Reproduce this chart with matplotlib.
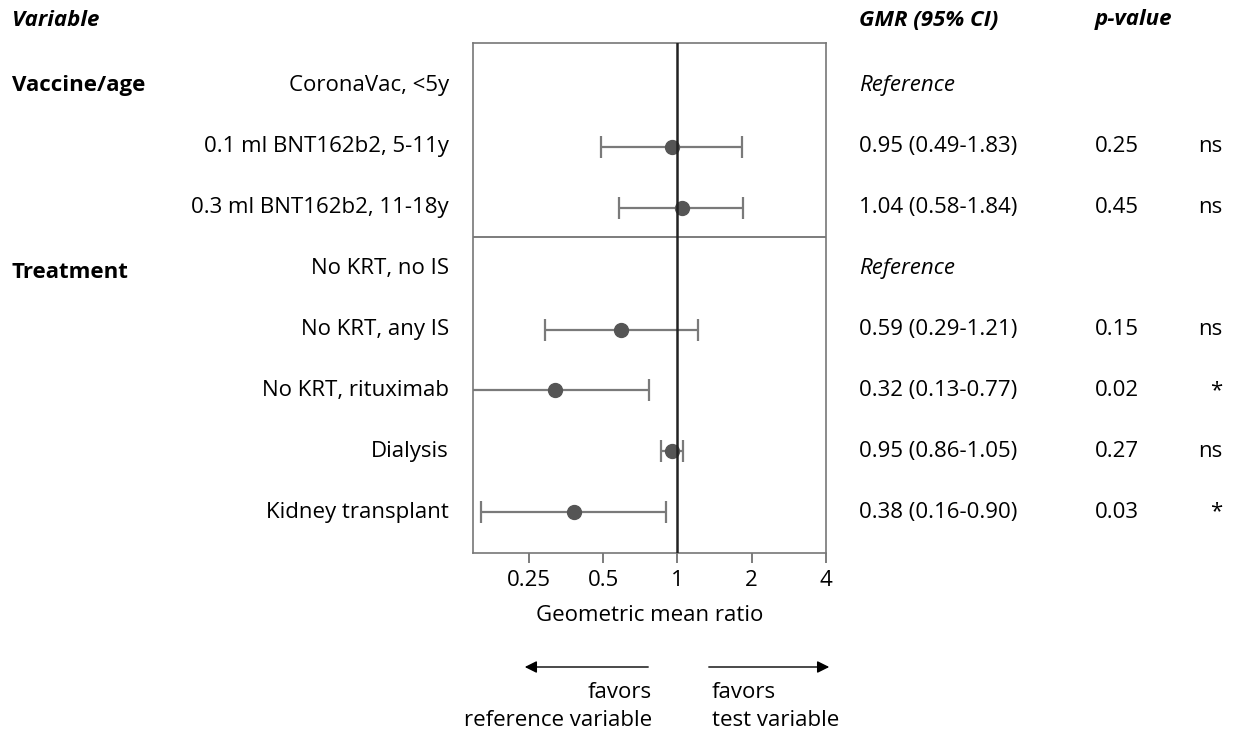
import numpy as np
import matplotlib.pyplot as plt
from matplotlib import transforms

plt.rcParams['font.family'] = ['Open Sans', 'DejaVu Sans']

# ---- data ----
groups = ["Vaccine/age", "Treatment"]
group_rows = [0, 3.07]
labels = ["CoronaVac, <5y", "0.1 ml BNT162b2, 5-11y", "0.3 ml BNT162b2, 11-18y",
          "No KRT, no IS", "No KRT, any IS", "No KRT, rituximab",
          "Dialysis", "Kidney transplant"]
gmr = [np.nan, 0.95, 1.04, np.nan, 0.59, 0.32, 0.95, 0.38]
lo = [np.nan, 0.49, 0.58, np.nan, 0.29, 0.13, 0.86, 0.16]
hi = [np.nan, 1.83, 1.84, np.nan, 1.21, 0.77, 1.05, 0.90]
ci_text = ["Reference", "0.95 (0.49-1.83)", "1.04 (0.58-1.84)", "Reference",
           "0.59 (0.29-1.21)", "0.32 (0.13-0.77)", "0.95 (0.86-1.05)", "0.38 (0.16-0.90)"]
pvals = ["", "0.25", "0.45", "", "0.15", "0.02", "0.27", "0.03"]
signif = ["", "ns", "ns", "", "ns", "*", "ns", "*"]
xticks = [0.25, 0.5, 1, 2, 4]
xticklabels = ["0.25", "0.5", "1", "2", "4"]

W, H = 1247, 741
fig = plt.figure(figsize=(W / 100, H / 100), dpi=100)
ax = fig.add_axes([473 / W, 1 - 553 / H, (826 - 473) / W, (553 - 43) / H])

rows = np.arange(len(labels))
g = np.array(gmr)
err = np.array([g - np.array(lo), np.array(hi) - g])
ax.errorbar(gmr, rows, xerr=err, fmt='none', ecolor='#7a7a7a', elinewidth=1.6,
            capsize=8, capthick=1.6, zorder=2)
ax.plot(gmr, rows, 'o', color='#555555', markersize=10, zorder=3)
ax.axvline(1, color='#222222', lw=1.8, zorder=4)
ax.axhline(2.48, color='#666666', lw=1.2)

ax.set_xscale('log', base=2)
ax.set_xlim(2 ** -2.75, 4)
ax.set_ylim(7.67, -0.706)
ax.set_xticks(xticks)
ax.set_xticklabels(xticklabels)
ax.minorticks_off()
ax.set_yticks([])
ax.tick_params(axis='x', length=7, width=1.2, color='#666666', labelsize=16, pad=5)
for s in ax.spines.values():
    s.set_color('#777777')
    s.set_linewidth(1.2)
ax.set_xlabel("Geometric mean ratio", fontsize=16, labelpad=10)

tr = transforms.blended_transform_factory(fig.transFigure, ax.transData)
fs = 16
for i in range(len(labels)):
    ax.text(449 / W, i, labels[i], transform=tr, ha='right', va='center', fontsize=fs)
    ax.text(859 / W, i, ci_text[i], transform=tr, ha='left', va='center', fontsize=fs,
            style='italic' if ci_text[i] == "Reference" else 'normal')
    ax.text(1095 / W, i, pvals[i], transform=tr, ha='left', va='center', fontsize=fs)
    ax.text(1222 / W, i, signif[i], transform=tr, ha='right', va='center', fontsize=fs)
for gname, r in zip(groups, group_rows):
    ax.text(12 / W, r, gname, transform=tr, ha='left', va='center', fontsize=fs,
            fontweight='bold')

# headers
for x, t in [(12, "Variable"), (859, "GMR (95% CI)"), (1095, "p-value")]:
    fig.text(x / W, 1 - 20 / H, t, ha='left', va='center', fontsize=fs,
             fontweight='bold', style='italic')

# direction arrows
ax.annotate("", xy=(522 / W, 1 - 667 / H), xytext=(651 / W, 1 - 667 / H),
            xycoords='figure fraction',
            arrowprops=dict(arrowstyle='-|>', color='black', lw=1, mutation_scale=18))
ax.annotate("", xy=(832 / W, 1 - 667 / H), xytext=(706 / W, 1 - 667 / H),
            xycoords='figure fraction',
            arrowprops=dict(arrowstyle='-|>', color='black', lw=1, mutation_scale=18))
fig.text(652 / W, 1 - 693 / H, "favors", ha='right', va='center', fontsize=fs)
fig.text(652 / W, 1 - 720 / H, "reference variable", ha='right', va='center', fontsize=fs)
fig.text(712 / W, 1 - 693 / H, "favors", ha='left', va='center', fontsize=fs)
fig.text(712 / W, 1 - 720 / H, "test variable", ha='left', va='center', fontsize=fs)

fig.savefig("out.png", dpi=100)
